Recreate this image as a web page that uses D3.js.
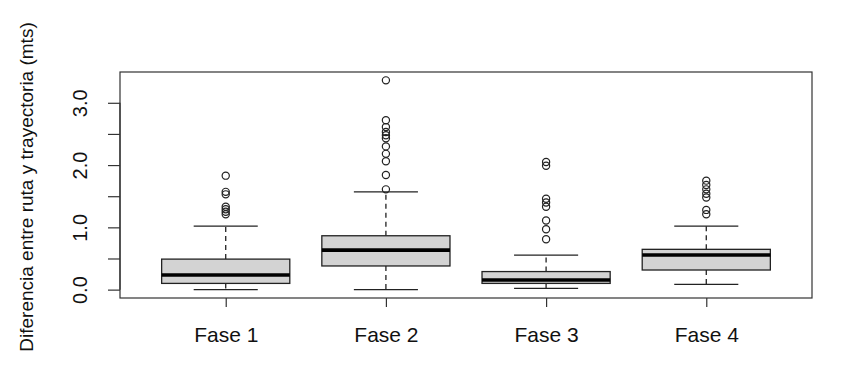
<!DOCTYPE html>
<html>
<head>
<meta charset="utf-8">
<script src="https://cdn.jsdelivr.net/npm/d3@7"></script>
<style>
  html, body { margin: 0; padding: 0; background: #fff; }
  svg { display: block; }
  text { font-family: "Liberation Sans", Arial, sans-serif; fill: #111; }
</style>
</head>
<body>
<script>
// ---- data ----
const categories   = ["Fase 1", "Fase 2", "Fase 3", "Fase 4"];
const lowerWhisker = [0.00, 0.00, 0.02, 0.085];
const q1           = [0.10, 0.38, 0.10, 0.315];
const median       = [0.235, 0.635, 0.155, 0.555];
const q3           = [0.49, 0.865, 0.29, 0.647];
const upperWhisker = [1.02, 1.57, 0.555, 1.02];
const outliers = [
  [1.83, 1.57, 1.53, 1.33, 1.29, 1.25, 1.21],
  [3.36, 2.72, 2.61, 2.53, 2.48, 2.43, 2.30, 2.18, 2.06, 1.84, 1.61],
  [2.05, 1.99, 1.46, 1.40, 1.33, 1.11, 0.97, 0.81],
  [1.75, 1.68, 1.61, 1.54, 1.48, 1.28, 1.21]
];
const yTicks      = [0, 0.5, 1, 1.5, 2, 2.5, 3];
const yTickLabels = ["0.0", "", "1.0", "", "2.0", "", "3.0"];
const yTitle = "Diferencia entre ruta y trayectoria (mts)";

// ---- layout ----
const W = 851, H = 366;
const plot = { left: 120, right: 812, top: 72, bottom: 298 };

const svg = d3.select("body").append("svg").attr("width", W).attr("height", H);

// scales (R-style 4% extension)
const allVals = [].concat(lowerWhisker, upperWhisker, ...outliers);
const yMin = d3.min(allVals), yMax = d3.max(allVals);
const yPad = 0.04 * (yMax - yMin);
const y = d3.scaleLinear().domain([yMin - yPad, yMax + yPad]).range([plot.bottom, plot.top]);
const n = categories.length;
const xPad = 0.04 * n;
const x = d3.scaleLinear().domain([0.5 - xPad, n + 0.5 + xPad]).range([plot.left, plot.right]);
const boxW = x(1.4) - x(1);     // half-width of box (boxwex 0.8)
const capW = boxW / 2;          // staple half-width

const ink = "#222";

// boxes
categories.forEach((c, i) => {
  const cx = x(i + 1);
  const g = svg.append("g");
  // whiskers (dashed)
  g.append("line").attr("x1", cx).attr("x2", cx).attr("y1", y(q3[i])).attr("y2", y(upperWhisker[i]))
    .attr("stroke", ink).attr("stroke-width", 1.3).attr("stroke-dasharray", "5,4");
  g.append("line").attr("x1", cx).attr("x2", cx).attr("y1", y(q1[i])).attr("y2", y(lowerWhisker[i]))
    .attr("stroke", ink).attr("stroke-width", 1.3).attr("stroke-dasharray", "5,4");
  // staples
  [upperWhisker[i], lowerWhisker[i]].forEach(v => {
    g.append("line").attr("x1", cx - capW).attr("x2", cx + capW).attr("y1", y(v)).attr("y2", y(v))
      .attr("stroke", ink).attr("stroke-width", 1.3);
  });
  // box
  g.append("rect").attr("x", cx - boxW).attr("width", 2 * boxW)
    .attr("y", y(q3[i])).attr("height", y(q1[i]) - y(q3[i]))
    .attr("fill", "#d3d3d3").attr("stroke", ink).attr("stroke-width", 1.3);
  // median
  g.append("line").attr("x1", cx - boxW).attr("x2", cx + boxW).attr("y1", y(median[i])).attr("y2", y(median[i]))
    .attr("stroke", "#000").attr("stroke-width", 3.6);
  // outliers
  g.selectAll("circle").data(outliers[i]).join("circle")
    .attr("cx", cx).attr("cy", d => y(d)).attr("r", 3.6)
    .attr("fill", "none").attr("stroke", ink).attr("stroke-width", 1.2);
});

// plot frame
svg.append("rect").attr("x", plot.left).attr("y", plot.top)
  .attr("width", plot.right - plot.left).attr("height", plot.bottom - plot.top)
  .attr("fill", "none").attr("stroke", "#333").attr("stroke-width", 1.2);

// x axis
const xAxis = d3.axisBottom(x).tickValues(d3.range(1, n + 1))
  .tickFormat(d => categories[d - 1]).tickSizeInner(9).tickSizeOuter(0).tickPadding(20);
const gx = svg.append("g").attr("transform", `translate(0,${plot.bottom})`).call(xAxis);
gx.select(".domain").remove();
gx.selectAll(".tick line").attr("stroke", "#333").attr("stroke-width", 1.2);
gx.selectAll(".tick text").attr("font-size", 21).attr("fill", "#111")
  .style("font-family", '"Liberation Sans", Arial, sans-serif');

// y axis
const yAxis = d3.axisLeft(y).tickValues(yTicks)
  .tickFormat((d, i) => yTickLabels[i]).tickSizeInner(12).tickSizeOuter(0);
const gy = svg.append("g").attr("transform", `translate(${plot.left},0)`).call(yAxis);
gy.select(".domain").attr("d", `M0,${y(yTicks[0])}V${y(yTicks[yTicks.length - 1])}`)
  .attr("stroke", "#333").attr("stroke-width", 1.2);
gy.selectAll(".tick line").attr("stroke", "#333").attr("stroke-width", 1.2);
gy.selectAll(".tick text")
  .attr("x", null).attr("dy", null)
  .attr("text-anchor", "middle")
  .attr("transform", "translate(-33,0) rotate(-90)")
  .attr("font-size", 20).attr("fill", "#111")
  .style("font-family", '"Liberation Sans", Arial, sans-serif');

// y title
svg.append("text")
  .attr("transform", `translate(33,${(plot.top + plot.bottom) / 2 + 2}) rotate(-90)`)
  .attr("text-anchor", "middle")
  .attr("font-size", 19)
  .text(yTitle);
</script>
</body>
</html>
